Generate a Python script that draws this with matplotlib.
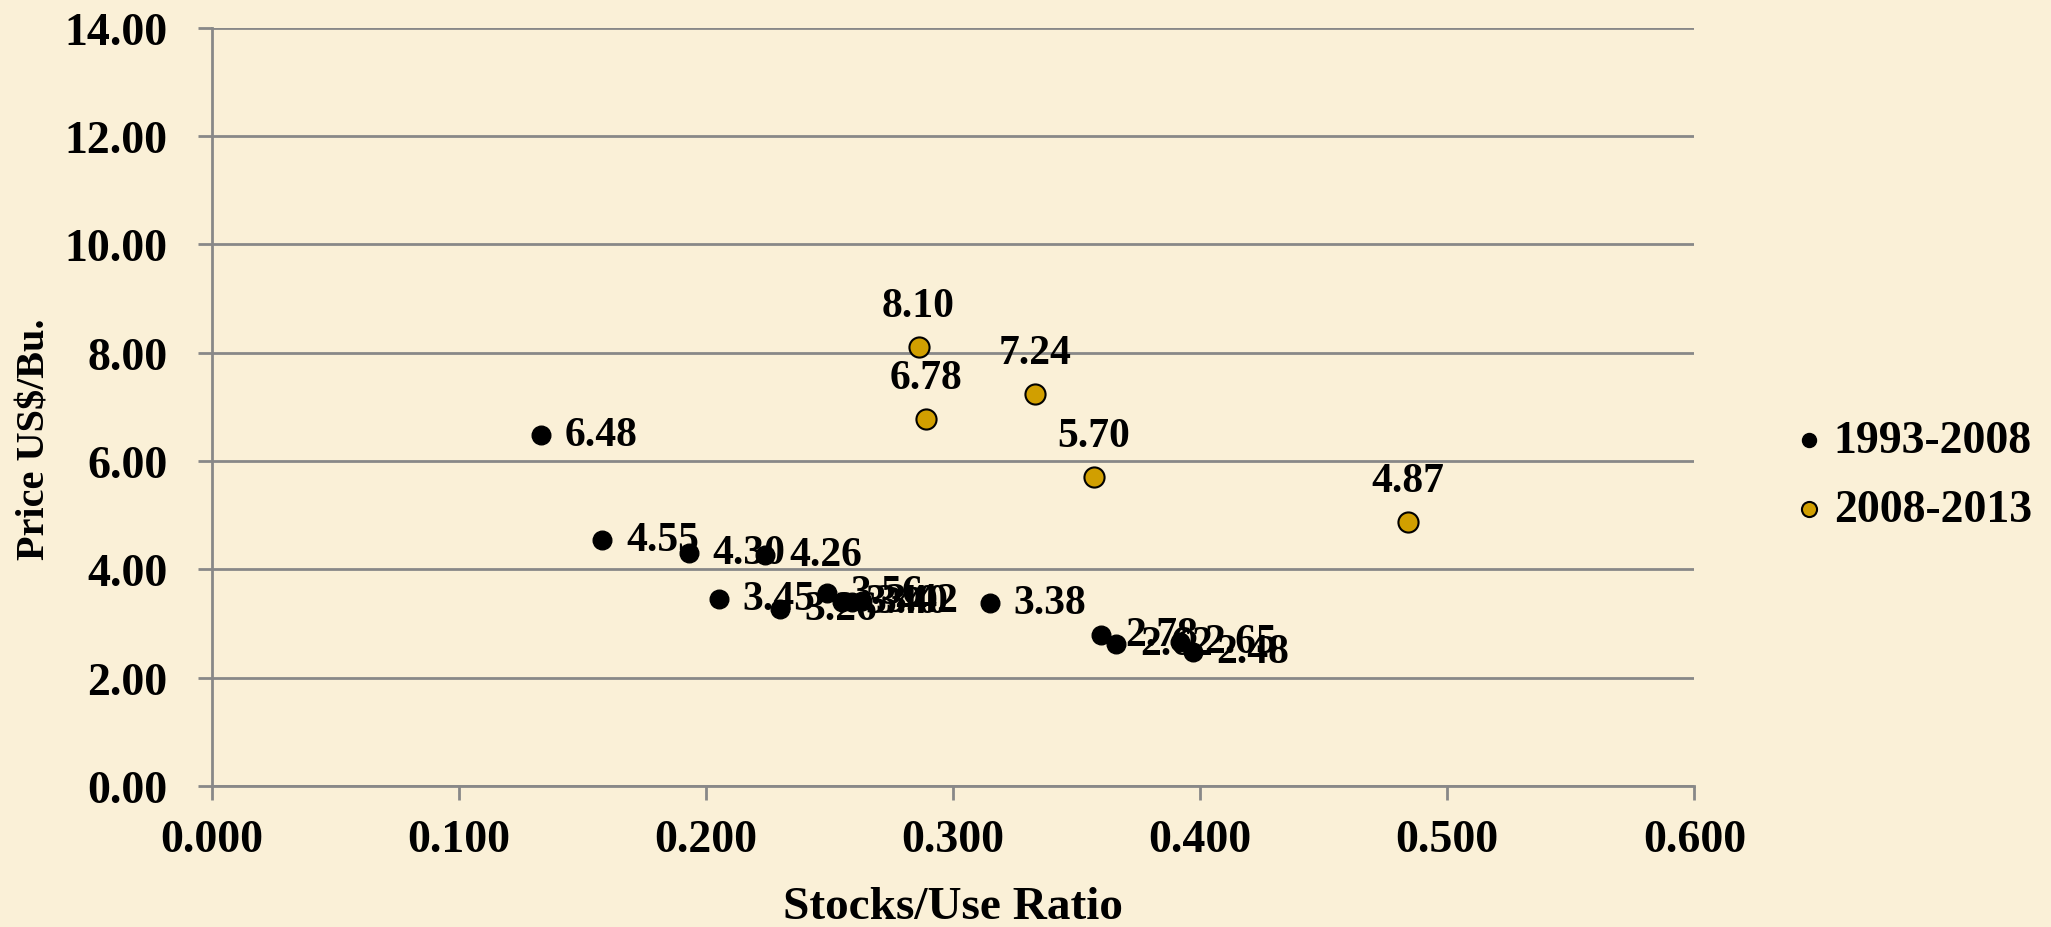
import matplotlib.pyplot as plt

plt.rcParams['font.family'] = ['Liberation Serif', 'DejaVu Serif']
plt.rcParams['font.weight'] = 'bold'

# data: stocks/use ratio and price
x_old = [0.230, 0.205, 0.158, 0.193, 0.315, 0.392, 0.397, 0.366, 0.360,
         0.249, 0.255, 0.259, 0.263, 0.224, 0.133]
y_old = [3.26, 3.45, 4.55, 4.30, 3.38, 2.65, 2.48, 2.62, 2.78,
         3.56, 3.40, 3.40, 3.42, 4.26, 6.48]
x_new = [0.289, 0.484, 0.357, 0.333, 0.286]
y_new = [6.78, 4.87, 5.70, 7.24, 8.10]

bg = '#FAF0D7'
grid_c = '#888888'
gold = '#D19F00'

fig = plt.figure(figsize=(20.51, 9.28), dpi=100, facecolor=bg)
ax = fig.add_axes([0.1034, 0.152, 0.7227, 0.817])
ax.set_facecolor(bg)

ax.scatter(x_old, y_old, s=180, color='black', zorder=3, label='1993-2008')
ax.scatter(x_new, y_new, s=210, color=gold, edgecolor='black', linewidth=1.5,
           zorder=3, label='2008-2013')

# data labels: black to the right, gold above
for xv, yv in zip(x_old, y_old):
    ax.annotate(f'{yv:.2f}', (xv, yv), xytext=(17, 0), textcoords='offset points',
                ha='left', va='center', fontsize=30, fontweight='bold', zorder=4)
for xv, yv in zip(x_new, y_new):
    ax.annotate(f'{yv:.2f}', (xv, yv), xytext=(0, 16), textcoords='offset points',
                ha='center', va='bottom', fontsize=30, fontweight='bold', zorder=4)

ax.set_xlim(0, 0.6)
ax.set_ylim(0, 14)
ax.set_xticks([0.0, 0.1, 0.2, 0.3, 0.4, 0.5, 0.6])
ax.set_xticklabels([f'{v:.3f}' for v in ax.get_xticks()])
ax.set_yticks(range(0, 15, 2))
ax.set_yticklabels([f'{v:.2f}' for v in range(0, 15, 2)])

ax.grid(axis='y', color=grid_c, linewidth=2)
ax.set_axisbelow(True)
for side in ['top', 'right']:
    ax.spines[side].set_visible(False)
for side in ['left', 'bottom']:
    ax.spines[side].set_color(grid_c)
    ax.spines[side].set_linewidth(2)
ax.tick_params(axis='both', colors=grid_c, width=2, length=10, labelsize=33,
               labelcolor='black')
ax.tick_params(axis='x', pad=14)
ax.tick_params(axis='y', pad=22)
for t in ax.get_xticklabels() + ax.get_yticklabels():
    t.set_fontweight('bold')

ax.set_xlabel('Stocks/Use Ratio', fontsize=34, fontweight='bold', labelpad=18)
ax.set_ylabel('Price US$/Bu.', fontsize=29, fontweight='bold')
ax.yaxis.set_label_coords(-0.107, 0.458)

leg = ax.legend(loc='center left', bbox_to_anchor=(0.8762, 0.4865),
                bbox_transform=fig.transFigure, frameon=False, fontsize=33,
                borderpad=0, borderaxespad=0, handlelength=0.5,
                handletextpad=0.3, labelspacing=0.6, markerscale=0.75)
for t in leg.get_texts():
    t.set_fontweight('bold')

plt.savefig('out.png', dpi=100, facecolor=bg)
